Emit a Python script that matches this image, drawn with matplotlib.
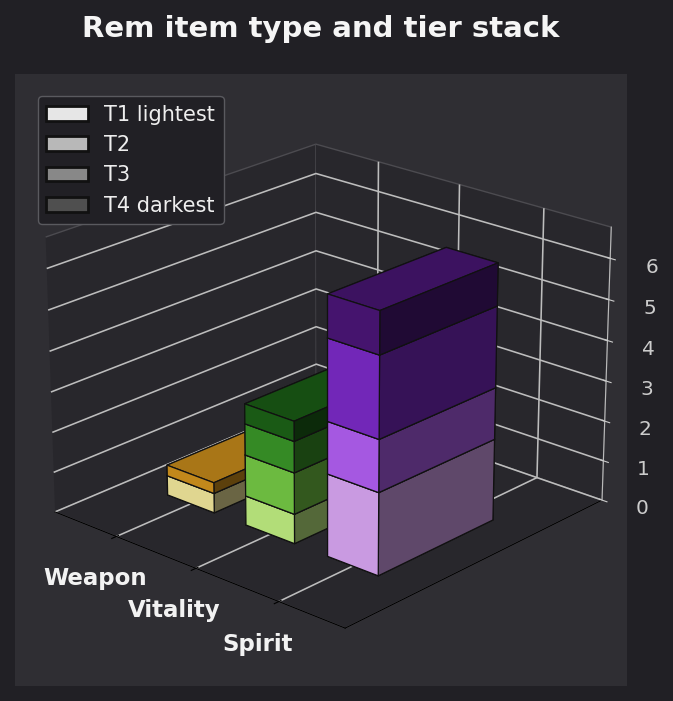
import numpy as np
import matplotlib
matplotlib.use('Agg')
from matplotlib import pyplot as plt
from matplotlib.patches import Patch

items = ['Weapon', 'Vitality', 'Spirit']
tiers = ['T1 lightest', 'T2', 'T3', 'T4 darkest']
t1 = [0.49, 0.73, 2.02]
t2 = [0.27, 1.02, 1.27]
t3 = [0.0, 0.77, 1.98]
t4 = [0.0, 0.49, 1.03]
stacks = [t1, t2, t3, t4]
item_colors = [
    ['#fef2a3', '#dc9a1e', '#a06f10', '#7a5208'],
    ['#c9fa88', '#7ad348', '#3c9c2a', '#1d6618'],
    ['#e3aeff', '#bb64ff', '#812cd0', '#4e177d'],
]
legend_colors = ['#e6e6e6', '#b8b8b8', '#888888', '#4f4f4f']

fig = plt.figure(figsize=(6.73, 7.01), dpi=100, facecolor='#212025')
ax = fig.add_axes([0.022, 0.022, 0.911, 0.873], projection='3d', facecolor='#2f2e33')
ax.view_init(elev=22, azim=-48)

for axis in (ax.xaxis, ax.yaxis, ax.zaxis):
    axis.set_pane_color('#28272c')
    axis.pane.set_edgecolor('#4c4b50')
    axis._axinfo['grid']['color'] = '#bdbdbd'
    axis._axinfo['grid']['linewidth'] = 1.15
    axis.line.set_color('#000000')
ax.zaxis.line.set_color('#bbbbbb')

for i in range(len(items)):
    bottom = 0
    for j, tier in enumerate(stacks):
        if tier[i] > 0:
            ax.bar3d(i - 0.3, 0.27, bottom, 0.6, 0.445, tier[i], color=item_colors[i][j],
                     edgecolor='#111111', linewidth=0.9, shade=True)
        bottom += tier[i]

ax.set_xlim(-0.8, 2.77)
ax.set_ylim(0, 1)
ax.set_zlim(0, 6.75)
ax.set_xticks(range(len(items)))
ax.set_xticklabels(items, fontweight='bold', fontsize=16.5, color='#f2f2f2')
ax.set_yticks([])
ax.set_zticks(range(7))
ax.tick_params(axis='z', colors='#cccccc', labelsize=14.5, pad=9)
ax.tick_params(axis='x', pad=9.5)
plt.setp(ax.get_zticklabels(), va='top')

handles = [Patch(facecolor=c, edgecolor='#111111', linewidth=2, label=t) for c, t in zip(legend_colors, tiers)]
leg = ax.legend(handles=handles, loc='upper left', bbox_to_anchor=(0.0194, 0.98), fontsize=15,
                facecolor='#212025', edgecolor='#5a5a5f', labelcolor='#eeeeee', framealpha=1.0)
fig.suptitle('Rem item type and tier stack', x=0.4765, y=0.979, color='#f5f5f5', fontsize=21, fontweight='bold')
fig.savefig('out.png', dpi=100, facecolor=fig.get_facecolor())
